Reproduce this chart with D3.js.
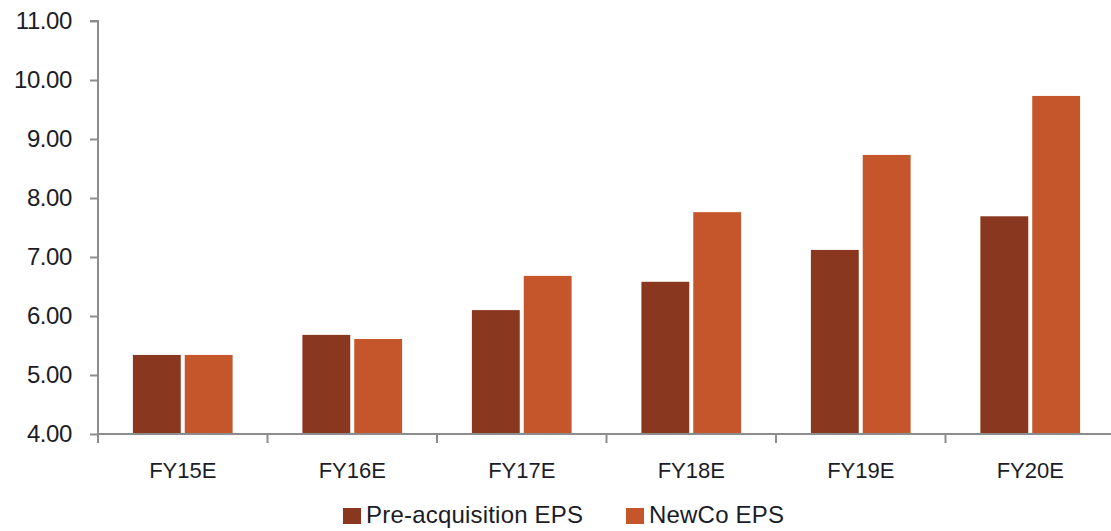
<!DOCTYPE html>
<html><head><meta charset="utf-8">
<script src="https://cdn.jsdelivr.net/npm/d3@7"></script>
<style>
html,body{margin:0;padding:0;background:#fff;}
svg text{font-family:"Liberation Sans","DejaVu Sans",sans-serif;fill:#1c1c26;}
</style></head>
<body><svg id="c" width="1111" height="531"></svg>
<script>
const categories = ["FY15E","FY16E","FY17E","FY18E","FY19E","FY20E"];
const seriesNames = ["Pre-acquisition EPS","NewCo EPS"];
const preAcq = [5.34, 5.68, 6.10, 6.58, 7.12, 7.69];
const newCo  = [5.34, 5.61, 6.68, 7.76, 8.73, 9.73];
const yTicks = [4,5,6,7,8,9,10,11];
const colors = ["#8a3720","#c5562b"];

const svg = d3.select("#c");
const mLeft = 98, mRight = 1115, mTop = 21, mBottom = 434;

const x0 = d3.scaleBand().domain(categories).range([mLeft, mRight]).padding(0);
const x1 = d3.scaleBand().domain(seriesNames).range([0, x0.bandwidth()])
  .paddingInner(0.077).paddingOuter(0.673);
const y = d3.scaleLinear().domain([4, 11]).range([mBottom, mTop]);

const data = categories.map((c,i)=>({cat:c, vals:[preAcq[i], newCo[i]]}));

// bars
const g = svg.append("g");
data.forEach(d=>{
  d.vals.forEach((v,j)=>{
    g.append("rect")
      .attr("x", x0(d.cat) + x1(seriesNames[j]))
      .attr("y", y(v))
      .attr("width", x1.bandwidth())
      .attr("height", y(4) - y(v))
      .attr("fill", colors[j]);
  });
});

// y axis
const yAxis = d3.axisLeft(y).tickValues(yTicks).tickFormat(d3.format(".2f")).tickSize(8).tickPadding(18);
const ya = svg.append("g").attr("transform", `translate(${mLeft},0)`).call(yAxis);
ya.select(".domain").attr("stroke","#8c8c8c").attr("stroke-width",2).attr("d",`M-8,${mTop}H0V${mBottom+9}`);
ya.selectAll(".tick line").attr("stroke","#8c8c8c").attr("stroke-width",2);
ya.selectAll(".tick text").style("font-size","24px").style("letter-spacing","-0.4px").attr("fill","#1c1c26");

// x axis
const xAxis = d3.axisBottom(x0).tickSize(0).tickPadding(28);
const xa = svg.append("g").attr("transform", `translate(0,${mBottom})`).call(xAxis);
xa.select(".domain").attr("stroke","#8c8c8c").attr("stroke-width",2).attr("d",`M${mLeft},0H1111`);
xa.selectAll(".tick text").style("font-size","22px").attr("fill","#1c1c26");
const bounds = categories.map(c=>x0(c)).concat([x0(categories[categories.length-1])+x0.bandwidth()]);
xa.selectAll(".bt").data(bounds.filter(b=>b<=1111)).enter().append("line")
  .attr("x1",d=>d).attr("x2",d=>d).attr("y1",0).attr("y2",9)
  .attr("stroke","#8c8c8c").attr("stroke-width",2);

// legend
const leg = svg.append("g");
const legX = [343, 626];
seriesNames.forEach((s,j)=>{
  leg.append("rect").attr("x",legX[j]).attr("y",508).attr("width",18).attr("height",16).attr("fill",colors[j]);
  leg.append("text").attr("x",legX[j]+23).attr("y",523).text(s).style("font-size","24px").style("letter-spacing","0.2px");
});
</script></body></html>
